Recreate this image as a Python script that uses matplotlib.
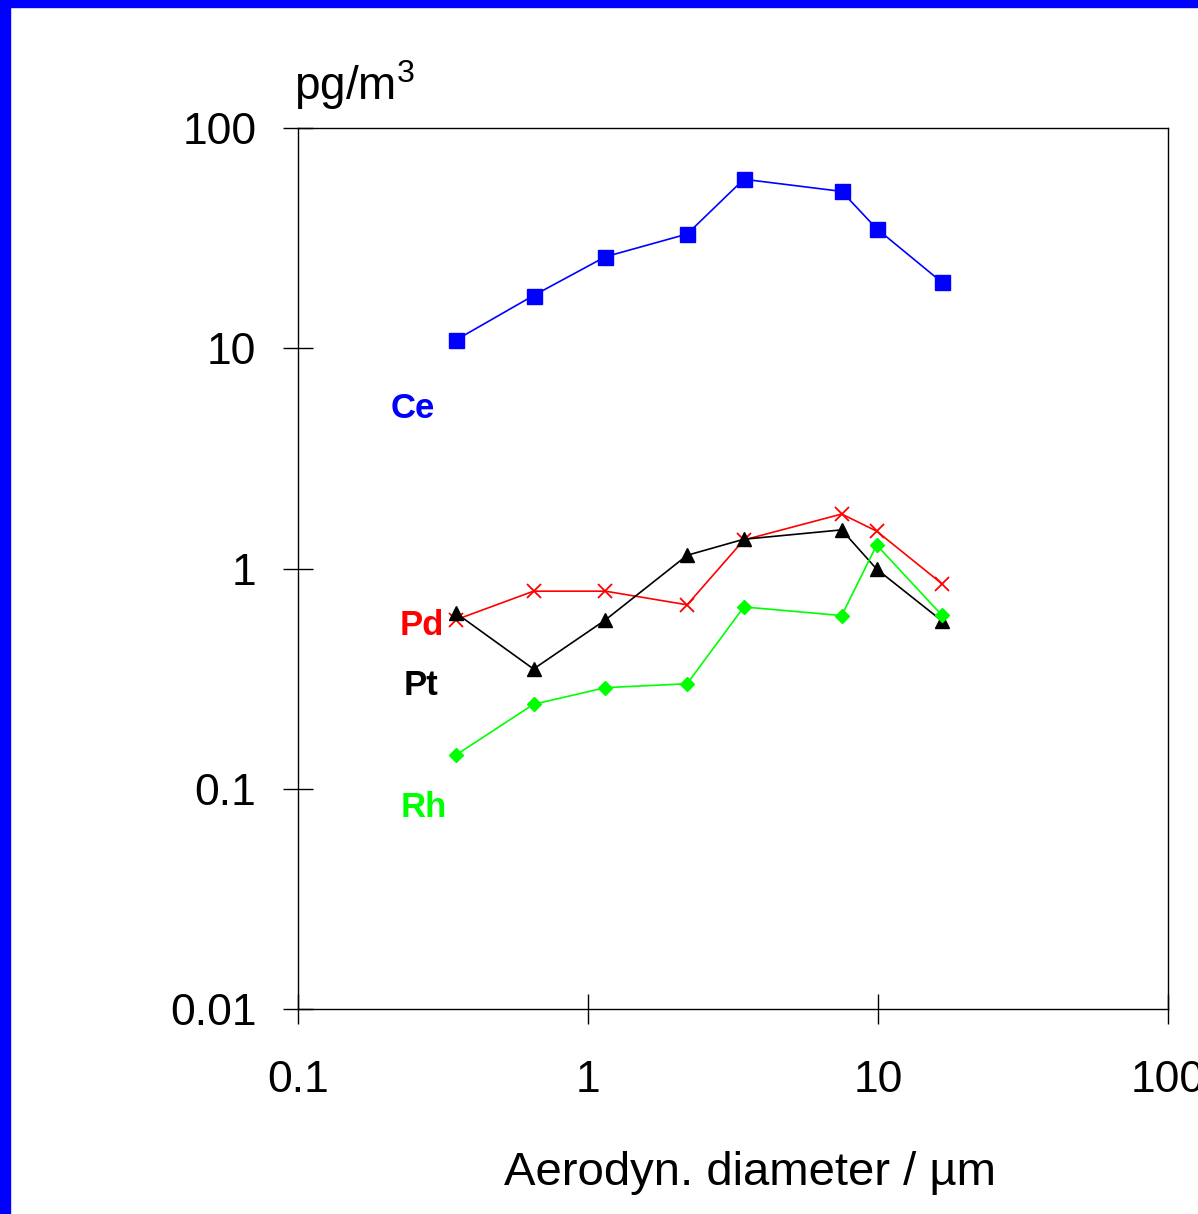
import matplotlib
matplotlib.use("Agg")
import matplotlib.pyplot as plt
from matplotlib.patches import Rectangle
from matplotlib.ticker import FixedLocator, FixedFormatter, NullLocator

plt.rcParams['font.family'] = ['Liberation Sans', 'DejaVu Sans']
plt.rcParams['mathtext.fontset'] = 'custom'
plt.rcParams['mathtext.rm'] = 'Liberation Sans'

# aerodynamic diameter (um) of the impactor stages
diameter = [0.35, 0.65, 1.15, 2.2, 3.45, 7.5, 9.9, 16.6]

# concentrations, pg/m3
ce = [10.9, 17.4, 26.1, 33.1, 58.7, 51.7, 35.0, 20.0]
pd_vals = [0.585, 0.79, 0.79, 0.685, 1.35, 1.77, 1.48, 0.855]
pt = [0.63, 0.35, 0.585, 1.15, 1.36, 1.5, 0.995, 0.58]
rh = [0.142, 0.242, 0.288, 0.30, 0.67, 0.612, 1.28, 0.615]

x_ticks = [0.1, 1, 10, 100]
x_tick_labels = ["0.1", "1", "10", "100"]
y_ticks = [0.01, 0.1, 1, 10, 100]
y_tick_labels = ["0.01", "0.1", "1", "10", "100"]

fig = plt.figure(figsize=(11.98, 12.14), dpi=100)
ax = fig.add_axes([0.2485, 0.1689, 0.7265, 0.7254])

ax.plot(diameter, ce, color="#0000ff", lw=1.2, marker="s", ms=10.8,
        mec="#0000ff", mfc="#0000ff")
ax.plot(diameter, pd_vals, color="#ff0000", lw=1.2, marker="x", ms=10.5,
        mew=1.3)
ax.plot(diameter, pt, color="black", lw=1.2, marker="^", ms=10.4)
ax.plot(diameter, rh, color="#00ff00", lw=1.2, marker="D", ms=7.5)

ax.set_xscale("log")
ax.set_yscale("log")
ax.set_xlim(0.1, 100)
ax.set_ylim(0.01, 100)

ax.xaxis.set_major_locator(FixedLocator(x_ticks))
ax.xaxis.set_major_formatter(FixedFormatter(x_tick_labels))
ax.yaxis.set_major_locator(FixedLocator(y_ticks))
ax.yaxis.set_major_formatter(FixedFormatter(y_tick_labels))
ax.xaxis.set_minor_locator(NullLocator())
ax.yaxis.set_minor_locator(NullLocator())

ax.tick_params(axis="both", which="major", direction="inout", length=21.6,
               width=1.0, labelsize=32, top=False, right=False)
ax.tick_params(axis="x", pad=26)
ax.tick_params(axis="y", pad=19)
for sp in ax.spines.values():
    sp.set_linewidth(1.0)

# series names written next to the curves
ax.text(0.2497, 4.83, "Ce", color="#0000ff", fontsize=25, fontweight="bold",
        ha="center", va="baseline")
ax.text(0.267, 0.50, "Pd", color="#ff0000", fontsize=25, fontweight="bold",
        ha="center", va="baseline")
ax.text(0.266, 0.267, "Pt", color="black", fontsize=25, fontweight="bold",
        ha="center", va="baseline")
ax.text(0.272, 0.0748, "Rh", color="#00ff00", fontsize=25, fontweight="bold",
        ha="center", va="baseline")

ax.set_xlabel("Aerodyn. diameter / µm", fontsize=34)
ax.xaxis.set_label_coords(0.5197, -0.161)
ax.set_ylabel(r"pg/m$^{\mathregular{3}}$", fontsize=33, rotation=0,
              ha="left", va="baseline")
ax.yaxis.set_label_coords(-0.004, 1.032)

# blue frame on the left and top edge
fig.patches.append(Rectangle((0, 0), 10 / 1198, 1, transform=fig.transFigure,
                             color="#0000ff", zorder=10))
fig.patches.append(Rectangle((0, 1 - 7 / 1214), 1, 7 / 1214,
                             transform=fig.transFigure, color="#0000ff",
                             zorder=10))

fig.savefig("out.png", dpi=100)
